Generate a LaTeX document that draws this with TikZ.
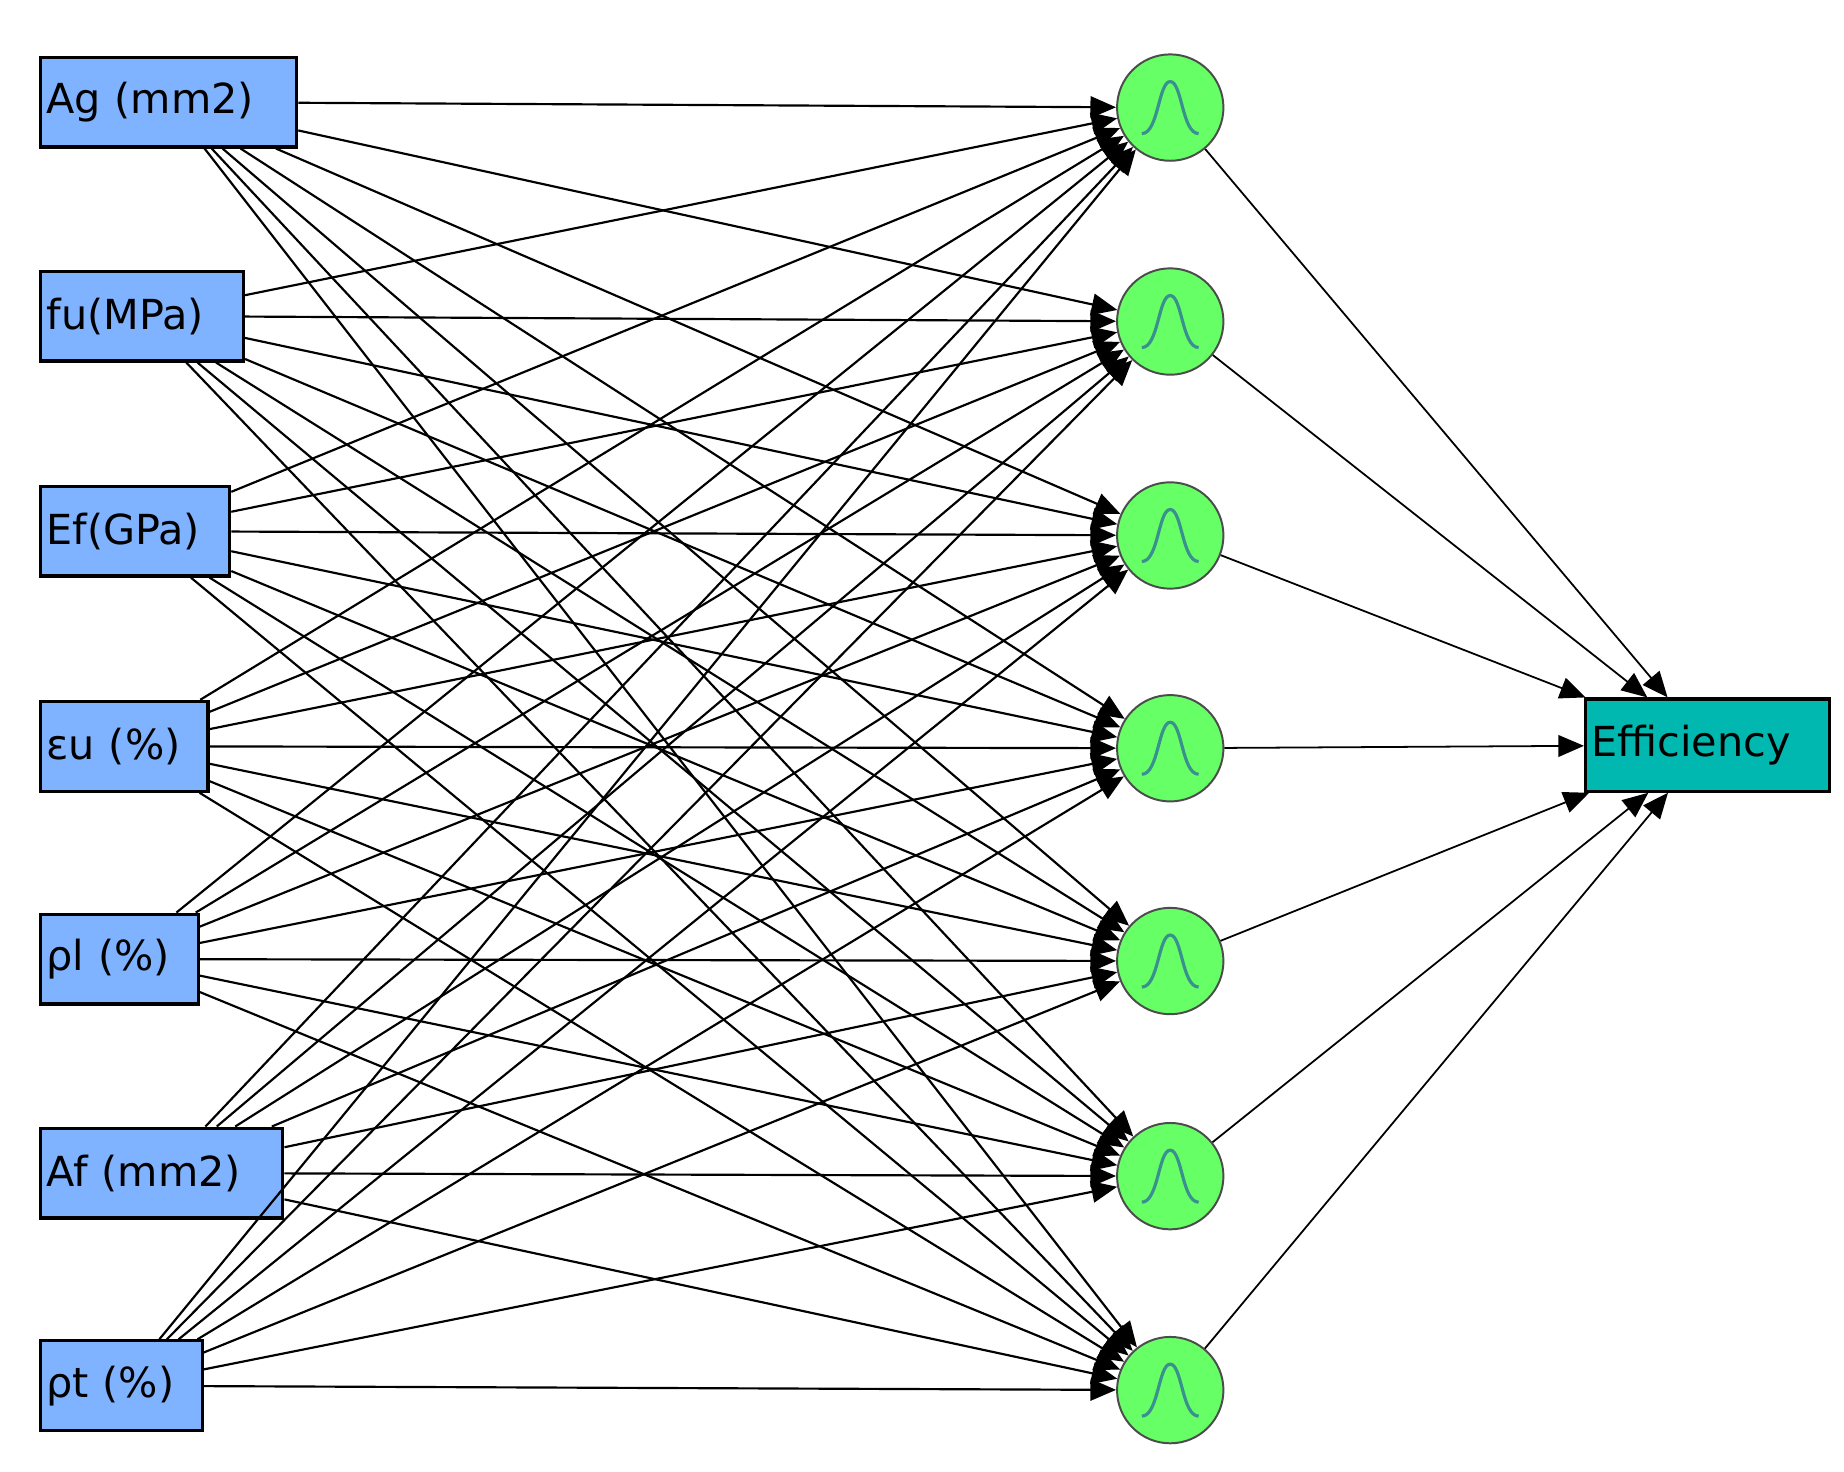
\documentclass[tikz,border=0pt]{standalone}
\usepackage{fontspec}
\setmainfont{DejaVu Sans}
\usetikzlibrary{arrows.meta,calc}
\definecolor{inblue}{HTML}{7FB2FF}
\definecolor{hgreen}{HTML}{66FF66}
\definecolor{outteal}{HTML}{00B8B0}
\definecolor{bell}{HTML}{3A8F8F}
\begin{document}
\begin{tikzpicture}[x=0.6pt,y=-0.6pt,
  inp/.style={draw=black,line width=1.6pt,fill=inblue,anchor=north west,inner xsep=3pt,inner ysep=0pt,align=left,font=\fontsize{21}{25}\selectfont},
  hid/.style={circle,draw=black!70,line width=1pt,fill=hgreen,minimum size=54pt,inner sep=0pt},
  conn/.style={line width=1.1pt,-{Triangle[length=13pt,width=11pt]}},
  oconn/.style={line width=0.9pt,-{Triangle[length=13pt,width=11pt]}}]
\useasboundingbox (0,0) rectangle (1560,1245);
\node[inp,text width=124pt,minimum height=45.6pt] (i1) at (33,47) {Ag (mm2)};
\node[inp,text width=97pt,minimum height=45.6pt] (i2) at (33,228) {fu(MPa)};
\node[inp,text width=90pt,minimum height=45.6pt] (i3) at (33,410) {Ef(GPa)};
\node[inp,text width=79pt,minimum height=45.6pt] (i4) at (33,592) {εu (\%)};
\node[inp,text width=74pt,minimum height=45.6pt] (i5) at (33,772) {ρl (\%)};
\node[inp,text width=117pt,minimum height=45.6pt] (i6) at (33,953) {Af (mm2)};
\node[inp,text width=76pt,minimum height=45.6pt] (i7) at (33,1133) {ρt (\%)};
\foreach \k/\y in {1/91,2/272,3/453,4/633,5/813,6/995,7/1176}{
  \node[hid] (h\k) at (990,\y) {};
  \draw[bell,line width=1.6pt] ($(h\k.center)+(-24,22)$) .. controls ($(h\k.center)+(-10,22)$) and ($(h\k.center)+(-10,-22)$) .. ($(h\k.center)+(0,-22)$) .. controls ($(h\k.center)+(10,-22)$) and ($(h\k.center)+(10,22)$) .. ($(h\k.center)+(24,22)$);
}
\node[draw=black,line width=1.6pt,fill=outteal,anchor=north west,text width=118pt,inner xsep=3pt,minimum height=46.8pt,inner ysep=0pt,align=left,font=\fontsize{21}{25}\selectfont] (o) at (1340,590) {Efficiency};
\foreach \i in {1,...,7}{\foreach \k in {1,...,7}{\draw[conn] (i\i) -- (h\k);}}
\foreach \k in {1,...,7}{\draw[oconn] (h\k) -- (o);}
\end{tikzpicture}
\end{document}
